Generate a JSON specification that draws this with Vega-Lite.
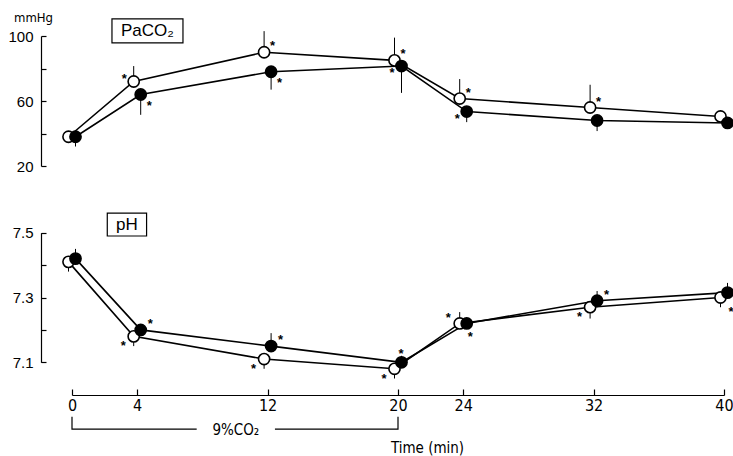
{
  "$schema": "https://vega.github.io/schema/vega-lite/v6.json",
  "width": 652,
  "height": 359,
  "autosize": {"type": "none"},
  "padding": {"left": 72, "top": 36, "right": 9, "bottom": 61},
  "background": "white",
  "config": {
    "view": {"stroke": null},
    "axis": {"grid": false, "domainColor": "black", "tickColor": "black", "labelColor": "black", "titleColor": "black", "domainWidth": 1.2, "tickWidth": 1.2}
  },
  "datasets": {
    "pc": [
      {"t": 0, "s": "open", "v": 38, "e": null},
      {"t": 4, "s": "open", "v": 72, "e": 81.5},
      {"t": 12, "s": "open", "v": 90, "e": 103},
      {"t": 20, "s": "open", "v": 85, "e": 99},
      {"t": 24, "s": "open", "v": 61.5, "e": 73.5},
      {"t": 32, "s": "open", "v": 56, "e": 70},
      {"t": 40, "s": "open", "v": 50.5, "e": 53.5},
      {"t": 0, "s": "filled", "v": 38, "e": 32},
      {"t": 4, "s": "filled", "v": 64, "e": 51.5},
      {"t": 12, "s": "filled", "v": 78, "e": 67},
      {"t": 20, "s": "filled", "v": 81.5, "e": 65},
      {"t": 24, "s": "filled", "v": 53.5, "e": 47},
      {"t": 32, "s": "filled", "v": 48, "e": 41.5},
      {"t": 40, "s": "filled", "v": 46.5, "e": null}
    ],
    "ph": [
      {"t": 0, "s": "open", "v": 7.41, "e": 7.38},
      {"t": 4, "s": "open", "v": 7.18, "e": 7.15},
      {"t": 12, "s": "open", "v": 7.11, "e": 7.08},
      {"t": 20, "s": "open", "v": 7.08, "e": 7.05},
      {"t": 24, "s": "open", "v": 7.22, "e": 7.255},
      {"t": 32, "s": "open", "v": 7.27, "e": 7.235},
      {"t": 40, "s": "open", "v": 7.30, "e": 7.27},
      {"t": 0, "s": "filled", "v": 7.42, "e": 7.45},
      {"t": 4, "s": "filled", "v": 7.20, "e": null},
      {"t": 12, "s": "filled", "v": 7.15, "e": 7.19},
      {"t": 20, "s": "filled", "v": 7.10, "e": 7.12},
      {"t": 24, "s": "filled", "v": 7.22, "e": null},
      {"t": 32, "s": "filled", "v": 7.29, "e": 7.32},
      {"t": 40, "s": "filled", "v": 7.315, "e": 7.345}
    ],
    "pc_ast": [
      {"t": 4, "s": "open", "v": 72, "pos": "ul"},
      {"t": 4, "s": "filled", "v": 64, "pos": "lr"},
      {"t": 12, "s": "open", "v": 90, "pos": "ur"},
      {"t": 12, "s": "filled", "v": 78, "pos": "lr"},
      {"t": 20, "s": "open", "v": 85, "pos": "ur"},
      {"t": 20, "s": "filled", "v": 81.5, "pos": "l"},
      {"t": 24, "s": "open", "v": 61.5, "pos": "ur"},
      {"t": 24, "s": "filled", "v": 53.5, "pos": "l"},
      {"t": 32, "s": "open", "v": 56, "pos": "ur"}
    ],
    "ph_ast": [
      {"t": 4, "s": "filled", "v": 7.20, "pos": "r"},
      {"t": 4, "s": "open", "v": 7.18, "pos": "ll"},
      {"t": 12, "s": "filled", "v": 7.15, "pos": "r"},
      {"t": 12, "s": "open", "v": 7.11, "pos": "ll"},
      {"t": 20, "s": "filled", "v": 7.10, "pos": "ur"},
      {"t": 20, "s": "open", "v": 7.08, "pos": "ll"},
      {"t": 24, "s": "open", "v": 7.22, "pos": "ul"},
      {"t": 24, "s": "filled", "v": 7.22, "pos": "lr"},
      {"t": 32, "s": "filled", "v": 7.29, "pos": "r"},
      {"t": 32, "s": "open", "v": 7.27, "pos": "ll"},
      {"t": 40, "s": "open", "v": 7.30, "pos": "lr"}
    ],
    "pc_lab": [{"t": 4.63, "v": 103.1, "label": "PaCO₂"}],
    "ph_lab": [{"t": 3.37, "v": 7.525, "label": "pH"}],
    "bracket": [
      {"seg": "a", "k": 1, "t": 0, "v": 6.932},
      {"seg": "a", "k": 2, "t": 0, "v": 6.894},
      {"seg": "a", "k": 3, "t": 7.65, "v": 6.894},
      {"seg": "b", "k": 1, "t": 12.45, "v": 6.894},
      {"seg": "b", "k": 2, "t": 20, "v": 6.894},
      {"seg": "b", "k": 3, "t": 20, "v": 6.932}
    ],
    "bracket_lab": [{"t": 10.05, "v": 6.891, "label": "9%CO₂"}]
  },
  "encoding": {
    "x": {
      "field": "t", "type": "quantitative",
      "scale": {"domain": [0, 40], "nice": false, "zero": false},
      "axis": {
        "values": [0, 4, 12, 20, 24, 32, 40],
        "title": "Time (min)",
        "tickSize": -6,
        "labelPadding": 8,
        "labelFlush": false,
        "labelFont": "Liberation Sans Narrow, DejaVu Sans Condensed, Liberation Sans",
        "labelFontSize": 16,
        "titleFont": "Liberation Sans Narrow, DejaVu Sans Condensed, Liberation Sans",
        "titleFontSize": 15,
        "titleFontWeight": "normal",
        "titleX": 355,
        "titleY": 52,
        "titleAlign": "center",
        "titleBaseline": "middle"
      }
    }
  },
  "layer": [
    {
      "encoding": {
        "y": {
          "field": "v", "type": "quantitative",
          "scale": {"domain": [20, 100], "range": [130, 0], "nice": false, "zero": false},
          "axis": {
            "orient": "left",
            "values": [20, 40, 60, 80, 100],
            "labelExpr": "datum.value == 40 || datum.value == 80 ? '' : datum.label",
            "offset": 31,
            "tickSize": -5,
            "labelPadding": 13,
            "labelFont": "Liberation Sans",
            "labelFontSize": 15,
            "title": "mmHg",
            "titleAngle": 0,
            "titleX": -8,
            "titleY": -19,
            "titleAlign": "center",
            "titleBaseline": "middle",
            "titleFont": "Liberation Sans Narrow, DejaVu Sans Condensed, Liberation Sans",
            "titleFontSize": 13,
            "titleFontWeight": "normal"
          }
        }
      },
      "layer": [
        {"data": {"name": "pc_lab"}, "mark": {"type": "point", "shape": "M-1,-0.338H1V0.338H-1Z", "size": 5041, "filled": false, "stroke": "black", "strokeWidth": 1.2, "opacity": 1}},
        {"data": {"name": "pc_lab"}, "mark": {"type": "text", "font": "Liberation Sans", "fontSize": 17, "color": "black"}, "encoding": {"text": {"field": "label"}}},
        {"data": {"name": "pc"}, "transform": [{"filter": "datum.s == 'open'"}], "mark": {"type": "line", "xOffset": -3.5, "color": "black", "strokeWidth": 1.6}},
        {"data": {"name": "pc"}, "transform": [{"filter": "datum.s == 'filled'"}], "mark": {"type": "line", "xOffset": 3.5, "color": "black", "strokeWidth": 1.6}},
        {"data": {"name": "pc"}, "transform": [{"filter": "datum.s == 'open' && datum.e != null"}], "mark": {"type": "rule", "xOffset": -3.5, "color": "black", "strokeWidth": 1}, "encoding": {"y2": {"field": "e"}}},
        {"data": {"name": "pc"}, "transform": [{"filter": "datum.s == 'filled' && datum.e != null"}], "mark": {"type": "rule", "xOffset": 3.5, "color": "black", "strokeWidth": 1}, "encoding": {"y2": {"field": "e"}}},
        {"data": {"name": "pc"}, "transform": [{"filter": "datum.s == 'open'"}], "mark": {"type": "point", "shape": "circle", "size": 125, "filled": true, "fill": "white", "stroke": "black", "strokeWidth": 1.6, "opacity": 1, "xOffset": -3.5}},
        {"data": {"name": "pc"}, "transform": [{"filter": "datum.s == 'filled'"}], "mark": {"type": "point", "shape": "circle", "size": 125, "filled": true, "fill": "black", "stroke": "black", "strokeWidth": 1.6, "opacity": 1, "xOffset": 3.5}},
        {"data": {"name": "pc_ast"}, "transform": [{"filter": "datum.pos == 'ul'"}], "mark": {"type": "text", "text": "*", "font": "Liberation Sans", "fontSize": 13, "fontWeight": "bold", "baseline": "alphabetic", "dx": -13, "dy": 1, "color": "black"}},
        {"data": {"name": "pc_ast"}, "transform": [{"filter": "datum.pos == 'ur'"}], "mark": {"type": "text", "text": "*", "font": "Liberation Sans", "fontSize": 13, "fontWeight": "bold", "baseline": "alphabetic", "dx": 5, "dy": -2, "color": "black"}},
        {"data": {"name": "pc_ast"}, "transform": [{"filter": "datum.pos == 'r'"}], "mark": {"type": "text", "text": "*", "font": "Liberation Sans", "fontSize": 13, "fontWeight": "bold", "baseline": "alphabetic", "dx": 13, "dy": -2, "color": "black"}},
        {"data": {"name": "pc_ast"}, "transform": [{"filter": "datum.pos == 'lr'"}], "mark": {"type": "text", "text": "*", "font": "Liberation Sans", "fontSize": 13, "fontWeight": "bold", "baseline": "alphabetic", "dx": 12, "dy": 15, "color": "black"}},
        {"data": {"name": "pc_ast"}, "transform": [{"filter": "datum.pos == 'll'"}], "mark": {"type": "text", "text": "*", "font": "Liberation Sans", "fontSize": 13, "fontWeight": "bold", "baseline": "alphabetic", "dx": -14, "dy": 14, "color": "black"}},
        {"data": {"name": "pc_ast"}, "transform": [{"filter": "datum.pos == 'l'"}], "mark": {"type": "text", "text": "*", "font": "Liberation Sans", "fontSize": 13, "fontWeight": "bold", "baseline": "alphabetic", "dx": -6, "dy": 11, "color": "black"}}
      ]
    },
    {
      "encoding": {
        "y": {
          "field": "v", "type": "quantitative",
          "scale": {"domain": [7.1, 7.5], "range": [326.3, 196.7], "nice": false, "zero": false},
          "axis": {
            "orient": "left",
            "values": [7.1, 7.2, 7.3, 7.4, 7.5],
            "format": ".1f",
            "labelExpr": "datum.label == '7.2' || datum.label == '7.4' ? '' : datum.label",
            "offset": 31,
            "tickSize": -5,
            "labelPadding": 13,
            "labelFont": "Liberation Sans",
            "labelFontSize": 15,
            "title": null
          }
        }
      },
      "layer": [
        {"data": {"name": "ph_lab"}, "mark": {"type": "point", "shape": "M-1,-0.58H1V0.58H-1Z", "size": 1545, "filled": false, "stroke": "black", "strokeWidth": 1.2, "opacity": 1}},
        {"data": {"name": "ph_lab"}, "mark": {"type": "text", "font": "Liberation Sans", "fontSize": 17, "color": "black"}, "encoding": {"text": {"field": "label"}}},
        {"data": {"name": "bracket"}, "mark": {"type": "line", "color": "black", "strokeWidth": 1.2}, "encoding": {"detail": {"field": "seg"}, "order": {"field": "k"}}},
        {"data": {"name": "bracket_lab"}, "mark": {"type": "text", "font": "Liberation Sans Narrow, DejaVu Sans Condensed, Liberation Sans", "fontSize": 15, "color": "black"}, "encoding": {"text": {"field": "label"}}},
        {"data": {"name": "ph"}, "transform": [{"filter": "datum.s == 'open'"}], "mark": {"type": "line", "xOffset": -3.5, "color": "black", "strokeWidth": 1.6}},
        {"data": {"name": "ph"}, "transform": [{"filter": "datum.s == 'filled'"}], "mark": {"type": "line", "xOffset": 3.5, "color": "black", "strokeWidth": 1.6}},
        {"data": {"name": "ph"}, "transform": [{"filter": "datum.s == 'open' && datum.e != null"}], "mark": {"type": "rule", "xOffset": -3.5, "color": "black", "strokeWidth": 1}, "encoding": {"y2": {"field": "e"}}},
        {"data": {"name": "ph"}, "transform": [{"filter": "datum.s == 'filled' && datum.e != null"}], "mark": {"type": "rule", "xOffset": 3.5, "color": "black", "strokeWidth": 1}, "encoding": {"y2": {"field": "e"}}},
        {"data": {"name": "ph"}, "transform": [{"filter": "datum.s == 'open'"}], "mark": {"type": "point", "shape": "circle", "size": 125, "filled": true, "fill": "white", "stroke": "black", "strokeWidth": 1.6, "opacity": 1, "xOffset": -3.5}},
        {"data": {"name": "ph"}, "transform": [{"filter": "datum.s == 'filled'"}], "mark": {"type": "point", "shape": "circle", "size": 125, "filled": true, "fill": "black", "stroke": "black", "strokeWidth": 1.6, "opacity": 1, "xOffset": 3.5}},
        {"data": {"name": "ph_ast"}, "transform": [{"filter": "datum.pos == 'ul'"}], "mark": {"type": "text", "text": "*", "font": "Liberation Sans", "fontSize": 13, "fontWeight": "bold", "baseline": "alphabetic", "dx": -15, "dy": -1, "color": "black"}},
        {"data": {"name": "ph_ast"}, "transform": [{"filter": "datum.pos == 'ur'"}], "mark": {"type": "text", "text": "*", "font": "Liberation Sans", "fontSize": 13, "fontWeight": "bold", "baseline": "alphabetic", "dx": 3, "dy": -4, "color": "black"}},
        {"data": {"name": "ph_ast"}, "transform": [{"filter": "datum.pos == 'r'"}], "mark": {"type": "text", "text": "*", "font": "Liberation Sans", "fontSize": 13, "fontWeight": "bold", "baseline": "alphabetic", "dx": 13, "dy": -2, "color": "black"}},
        {"data": {"name": "ph_ast"}, "transform": [{"filter": "datum.pos == 'lr'"}], "mark": {"type": "text", "text": "*", "font": "Liberation Sans", "fontSize": 13, "fontWeight": "bold", "baseline": "alphabetic", "dx": 7, "dy": 18, "color": "black"}},
        {"data": {"name": "ph_ast"}, "transform": [{"filter": "datum.pos == 'll'"}], "mark": {"type": "text", "text": "*", "font": "Liberation Sans", "fontSize": 13, "fontWeight": "bold", "baseline": "alphabetic", "dx": -14, "dy": 14, "color": "black"}}
      ]
    }
  ],
  "resolve": {"scale": {"y": "independent"}, "axis": {"y": "independent"}}
}
